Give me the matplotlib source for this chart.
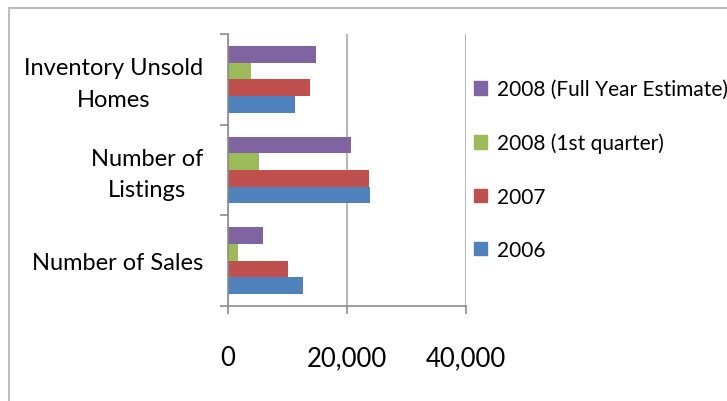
import matplotlib.pyplot as plt
import matplotlib.patches as mpatches
from matplotlib.ticker import FuncFormatter
from matplotlib.transforms import ScaledTranslation
import numpy as np

plt.rcParams['font.family'] = ['Lato', 'DejaVu Sans']

categories = ["Number of Sales", "Number of\nListings", "Inventory Unsold\nHomes"]
series_names = ["2006", "2007", "2008 (1st quarter)", "2008 (Full Year Estimate)"]
colors = ["#4F81BD", "#C0504D", "#9BBB59", "#8064A2"]

sales_2006 = [12600, 23850, 11250]
sales_2007 = [10150, 23650, 13800]
sales_2008_q1 = [1600, 5200, 3850]
sales_2008_full = [5850, 20600, 14850]

values = [sales_2006, sales_2007, sales_2008_q1, sales_2008_full]

fig = plt.figure(figsize=(7.27, 4.02), dpi=100)
ax = fig.add_axes([228 / 727, 1 - 307 / 402, 238 / 727, 272 / 402])

# chart area frame (runs off the right and bottom edges)
fig.patches.append(mpatches.Rectangle((8.5 / 727, -0.5), 2.0, 1.5 - 8.5 / 402,
                                      transform=fig.transFigure, fill=False,
                                      edgecolor="#BDBDBD", linewidth=1.5))

y = np.arange(len(categories))
h = 0.183
offsets = [-1.5 * h, -0.5 * h, 0.5 * h, 1.5 * h]
for vals, off, col, name in zip(values, offsets, colors, series_names):
    ax.barh(y + off, vals, height=h, color=col, label=name)

ax.set_xlim(0, 40000)
ax.set_ylim(-0.5, 2.5)

ax.set_xticks([0, 20000, 40000])
ax.xaxis.set_major_formatter(FuncFormatter(lambda v, p: f"{int(v):,}"))
ax.grid(axis="x", color="#B8B8B8", linewidth=1.5)
ax.set_axisbelow(True)

ax.set_yticks(y)
ax.set_yticklabels(categories, fontsize=17, multialignment="center",
                   linespacing=1.6)
ax.set_yticks([-0.5, 0.5, 1.5, 2.5], minor=True)
ax.tick_params(axis="y", which="major", length=0, pad=18)
ax.tick_params(axis="y", which="minor", length=6, width=1.2, color="#8C8C8C")
ax.tick_params(axis="x", length=6, width=1.2, color="#8C8C8C", labelsize=18.5, pad=22)

# nudge two-line labels up a little so they sit centred on the group
for lab in ax.get_yticklabels():
    if "\n" in lab.get_text():
        lab.set_transform(lab.get_transform() +
                          ScaledTranslation(0, 3 / 100, fig.dpi_scale_trans))

for s in ["top", "right"]:
    ax.spines[s].set_visible(False)
for s in ["left", "bottom"]:
    ax.spines[s].set_color("#8C8C8C")
    ax.spines[s].set_linewidth(1.2)

handles = [mpatches.Patch(color=c) for c in colors][::-1]
fig.legend(handles, series_names[::-1], loc="upper left",
           bbox_to_anchor=(466 / 727, 1 - 72 / 402), frameon=False,
           fontsize=15, handlelength=0.62, handleheight=0.62,
           handletextpad=0.45, labelspacing=1.6, borderaxespad=0)

fig.savefig("out.png", dpi=100)
